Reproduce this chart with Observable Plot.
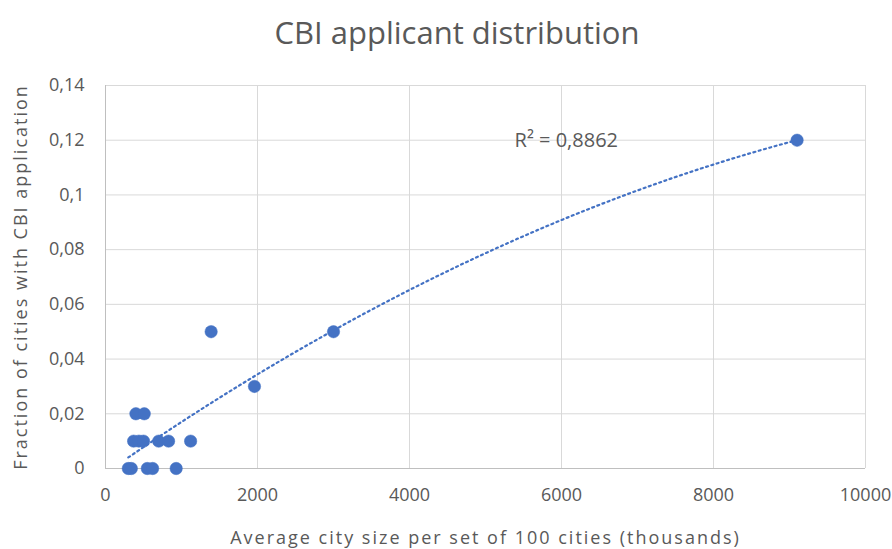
<!DOCTYPE html>
<html>
<head>
<meta charset="utf-8">
<script src="https://cdn.jsdelivr.net/npm/d3@7"></script>
<script src="https://cdn.jsdelivr.net/npm/@observablehq/plot@0.6"></script>
<style>
  html, body { margin: 0; padding: 0; background: #fff; }
  #wrap { width: 892px; height: 549px; position: relative; font-family: "Open Sans", sans-serif; }
  #title { height: 60px; text-align: center; font-size: 31px; color: #595959; line-height: 60px; padding-left: 22px; padding-top: 2px; box-sizing: border-box; }
</style>
</head>
<body>
<div id="wrap">
  <div id="title">CBI applicant distribution</div>
  <div id="chart"></div>
</div>
<script>
// Average city size (thousands) per set of 100 cities
const citySize = [300, 340, 550, 620, 930, 370, 440, 500, 700, 830, 1120, 400, 510, 1960, 1390, 3000, 9100];
// Fraction of cities with CBI application
const fraction = [0, 0, 0, 0, 0, 0.01, 0.01, 0.01, 0.01, 0.01, 0.01, 0.02, 0.02, 0.03, 0.05, 0.05, 0.12];
const xTicks = [0, 2000, 4000, 6000, 8000, 10000];
const yTicks = [0, 0.02, 0.04, 0.06, 0.08, 0.1, 0.12, 0.14];
const r2Label = "R² = 0,8862";

const data = citySize.map((x, i) => ({x, y: fraction[i]}));

// Least-squares polynomial (order 2) trendline fitted to the data
function polyFit(pts) {
  let n = pts.length, sx = 0, sx2 = 0, sx3 = 0, sx4 = 0, sy = 0, sxy = 0, sx2y = 0;
  for (const p of pts) {
    const x = p.x, y = p.y;
    sx += x; sx2 += x*x; sx3 += x*x*x; sx4 += x*x*x*x;
    sy += y; sxy += x*y; sx2y += x*x*y;
  }
  const A = [[n, sx, sx2, sy], [sx, sx2, sx3, sxy], [sx2, sx3, sx4, sx2y]];
  for (let i = 0; i < 3; i++) {
    let m = i;
    for (let k = i+1; k < 3; k++) if (Math.abs(A[k][i]) > Math.abs(A[m][i])) m = k;
    [A[i], A[m]] = [A[m], A[i]];
    for (let k = i+1; k < 3; k++) {
      const f = A[k][i] / A[i][i];
      for (let j = i; j < 4; j++) A[k][j] -= f * A[i][j];
    }
  }
  const c = [0, 0, 0];
  for (let i = 2; i >= 0; i--) {
    let s = A[i][3];
    for (let j = i+1; j < 3; j++) s -= A[i][j] * c[j];
    c[i] = s / A[i][i];
  }
  return c;
}
const coef = polyFit(data);
const xmin = d3.min(citySize), xmax = d3.max(citySize);
const trend = d3.range(0, 101).map(i => {
  const x = xmin + (xmax - xmin) * i / 100;
  return {x, y: coef[0] + coef[1]*x + coef[2]*x*x};
});

const blue = "#4472C4";
const grid = "#d9d9d9";
const textCol = "#595959";

const chart = Plot.plot({
  width: 892,
  height: 489,
  marginLeft: 105,
  marginRight: 27,
  marginTop: 25,
  marginBottom: 81,
  style: {fontFamily: "Open Sans, sans-serif", fontSize: "18px", color: textCol, background: "#fff", overflow: "visible"},
  x: {domain: [0, 10000]},
  y: {domain: [0, 0.14]},
  marks: [
    Plot.gridX(xTicks, {stroke: grid, strokeOpacity: 1, strokeWidth: 1}),
    Plot.gridY(yTicks, {stroke: grid, strokeOpacity: 1, strokeWidth: 1}),
    Plot.ruleX([0], {stroke: "#bfbfbf"}),
    Plot.ruleY([0], {stroke: "#bfbfbf"}),
    Plot.axisX(xTicks, {tickSize: 0, tickPadding: 20, tickFormat: d => String(d), fontSize: 18, fill: textCol,
      label: "Average city size per set of 100 cities (thousands)", labelAnchor: "center", labelArrow: "none", labelOffset: 75}),
    Plot.axisY(yTicks, {tickSize: 0, tickPadding: 21, tickFormat: d => String(d).replace(".", ","), fontSize: 18, fill: textCol,
      label: "Fraction of cities with CBI application", labelAnchor: "center", labelArrow: "none", labelOffset: 91}),
    Plot.line(trend, {x: "x", y: "y", stroke: blue, strokeWidth: 2.2, strokeDasharray: "2,3.5", strokeLinecap: "round"}),
    Plot.dot(data, {x: "x", y: "y", r: 6.2, fill: blue, stroke: blue, strokeWidth: 0.5}),
    Plot.text([r2Label], {x: 5382, y: 0.12, text: d => d, textAnchor: "start", fontSize: 20, fill: "#595959"})
  ]
});
d3.select(chart).selectAll('g[aria-label="x-axis label"] text, g[aria-label="y-axis label"] text')
  .style("letter-spacing", "2px").style("font-size", "18px");
document.getElementById("chart").appendChild(chart);
</script>
</body>
</html>
